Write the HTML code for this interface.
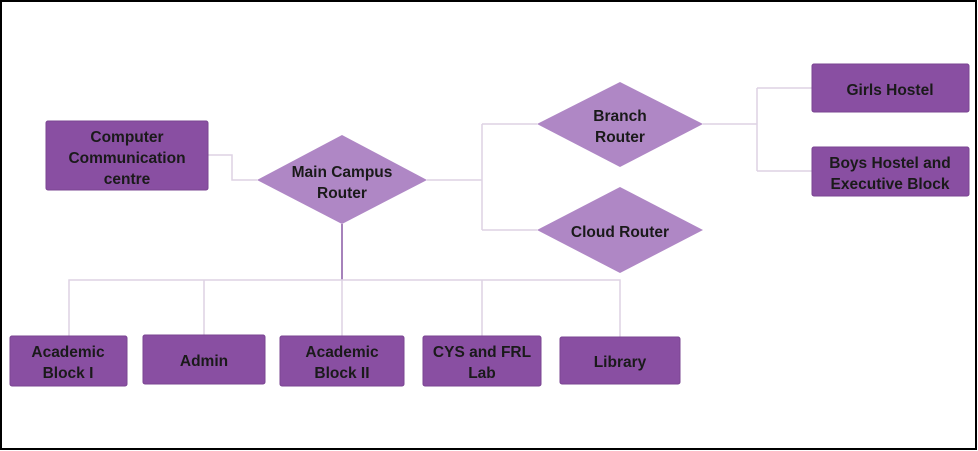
<!DOCTYPE html>
<html><head><style>
body{margin:0;background:#fff}
svg{display:block}
text{font-family:"Liberation Sans",Arial,sans-serif;font-weight:bold;font-size:15.5px;fill:#1a1a1a;text-anchor:middle}
.b{fill:#894fa2;stroke:#7a4492;stroke-width:1}
.d{fill:#af87c5}
.l{stroke:#ddd2e4;stroke-width:1.5;fill:none}
</style></head><body>
<svg width="978" height="451" viewBox="0 0 978 451">
<rect x="1" y="1" width="975" height="448" fill="#fff" stroke="#000" stroke-width="2"/>
<path class="l" d="M208 155H232V180H257"/>
<path d="M342 224V280" stroke="#a682bb" stroke-width="2"/>
<path class="l" d="M69 336V280H620V337M204 280V335M342 280V336M482 280V336"/>
<path class="l" d="M427 180H482M482 124V230M482 124H537M482 230H537"/>
<path class="l" d="M703 124H757M757 88V171M757 88H812M757 171H812"/>
<rect class="b" x="46" y="121" width="162" height="69" rx="2"/>
<text x="127" y="142">Computer</text><text x="127" y="163">Communication</text><text x="127" y="184">centre</text>
<polygon class="d" points="342,135 427,180 342,224 257,180"/>
<text x="342" y="177">Main Campus</text><text x="342" y="198">Router</text>
<polygon class="d" points="620,82 703,124 620,167 537,124"/>
<text x="620" y="121">Branch</text><text x="620" y="142">Router</text>
<polygon class="d" points="620,187 703,230 620,273 537,230"/>
<text x="620" y="237">Cloud Router</text>
<rect class="b" x="812" y="64" width="157" height="48" rx="2"/>
<text x="890" y="95">Girls Hostel</text>
<rect class="b" x="812" y="147" width="157" height="49" rx="2"/>
<text x="890" y="168">Boys Hostel and</text><text x="890" y="189">Executive Block</text>
<rect class="b" x="10" y="336" width="117" height="50" rx="2"/>
<text x="68" y="357">Academic</text><text x="68" y="378">Block I</text>
<rect class="b" x="143" y="335" width="122" height="49" rx="2"/>
<text x="204" y="366">Admin</text>
<rect class="b" x="280" y="336" width="124" height="50" rx="2"/>
<text x="342" y="357">Academic</text><text x="342" y="378">Block II</text>
<rect class="b" x="423" y="336" width="118" height="50" rx="2"/>
<text x="482" y="357">CYS and FRL</text><text x="482" y="378">Lab</text>
<rect class="b" x="560" y="337" width="120" height="47" rx="2"/>
<text x="620" y="367">Library</text>
</svg>
</body></html>
